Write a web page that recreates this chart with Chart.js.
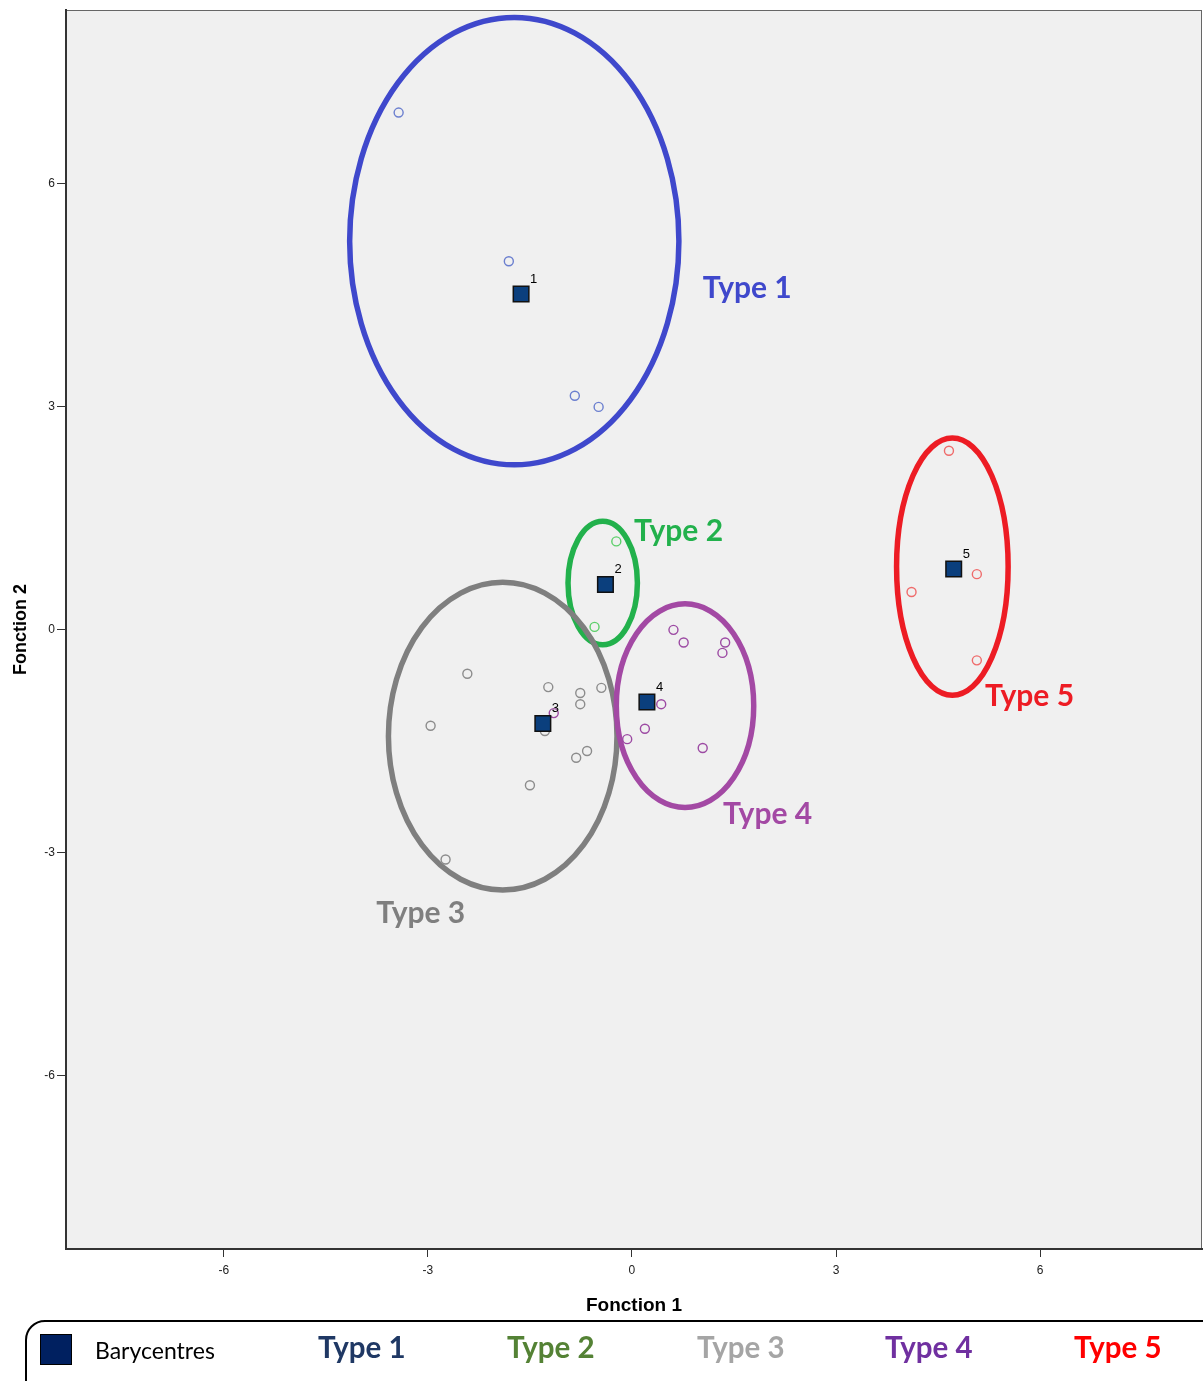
<!DOCTYPE html>
<html>
<head>
<meta charset="utf-8">
<script src="https://cdn.jsdelivr.net/npm/chart.js@4.4.1/dist/chart.umd.min.js"></script>
<style>
  html, body { margin: 0; padding: 0; background: #fff; }
  #wrap { position: relative; width: 1203px; height: 1381px; overflow: hidden; }
  #plot { display: block; }
  #legend {
    position: absolute; left: 25px; top: 1320px; width: 1200px; height: 90px;
    border: 2px solid #000; border-radius: 20px; box-sizing: border-box;
  }
  #legend span { position: absolute; top: 7px; white-space: nowrap; }
  #legend .sw { left: 13px; top: 12px; width: 32px; height: 31px; background: #002060; border: 1.5px solid #000; box-sizing: border-box; }
  #legend .lab { font-family: Lato, "Open Sans", sans-serif; font-weight: bold; font-size: 29.5px; }
</style>
</head>
<body>
<div id="wrap">
  <canvas id="plot" width="1203" height="1381"></canvas>
  <div id="legend">
    <span class="sw"></span>
    <span style="left:68px; top:14px; font-family: Lato, sans-serif; font-size:23px;">Barycentres</span>
    <span class="lab" style="left:291px; color:#1f3864;">Type 1</span>
    <span class="lab" style="left:480px; color:#548235;">Type 2</span>
    <span class="lab" style="left:670px; color:#a5a5a5;">Type 3</span>
    <span class="lab" style="left:858px; color:#7030a0;">Type 4</span>
    <span class="lab" style="left:1047px; color:#ff0000;">Type 5</span>
  </div>
</div>
<script>
// individual cases, per group (Fonction 1, Fonction 2)
const type1 = [[-3.43, 6.96], [-1.81, 4.96], [-0.84, 3.15], [-0.49, 3.00]];
const type2 = [[-0.23, 1.19], [-0.55, 0.04]];
const type3 = [[-2.42, -0.59], [-2.96, -1.29], [-1.23, -0.77], [-0.76, -0.85], [-0.76, -1.00],
               [-0.45, -0.78], [-1.28, -1.36], [-0.66, -1.63], [-0.82, -1.72], [-1.50, -2.09],
               [-2.74, -3.09]];
const type4 = [[-1.15, -1.12], [0.61, 0.00], [0.76, -0.17], [1.37, -0.17], [1.33, -0.31],
               [0.43, -1.00], [0.19, -1.33], [-0.07, -1.47], [1.04, -1.59]];
const type5 = [[4.66, 2.41], [5.07, 0.75], [4.11, 0.51], [5.07, -0.41]];

// group centroids
const centroidX = [-1.63, -0.39, -1.31, 0.22, 4.73];
const centroidY = [4.52, 0.61, -1.26, -0.97, 0.82];
const centroidLabels = ['1', '2', '3', '4', '5'];

// hand-drawn group ellipses (centre and half-axes in axis units)
const ellipseCx = [-1.73, -0.43, -1.90, 0.78, 4.71];
const ellipseCy = [5.23, 0.63, -1.43, -1.02, 0.85];
const ellipseRx = [2.42, 0.51, 1.68, 1.01, 0.82];
const ellipseRy = [3.01, 0.83, 2.07, 1.37, 1.73];

// group names and where they sit next to the ellipses
const groupNames = ['Type 1', 'Type 2', 'Type 3', 'Type 4', 'Type 5'];
const groupLabelX = [1.04, 0.03, -3.76, 1.34, 5.19];
const groupLabelY = [4.59, 1.32, -3.81, -2.48, -0.90];

const xTicks = [-6, -3, 0, 3, 6];
const yTicks = [-6, -3, 0, 3, 6];

const ringColors  = ['#3f48cc', '#22b14c', '#7f7f7f', '#a349a4', '#ed1c24'];
const pointColors = ['#6b7fcf', '#5ccf6a', '#8c8c8c', '#9c4aa3', '#ef6b6b'];

const toPts = arr => arr.map(p => ({ x: p[0], y: p[1] }));

// background + frame, ellipses and labels
const decor = {
  id: 'decor',
  beforeDraw(chart) {
    const { ctx, chartArea: a } = chart;
    ctx.save();
    ctx.fillStyle = '#f0f0f0';
    ctx.fillRect(a.left, a.top, a.right - a.left, a.bottom - a.top);
    ctx.restore();
  },
  beforeDatasetsDraw(chart) {
    const { ctx, scales: { x, y } } = chart;
    ctx.save();
    ellipseCx.forEach((cx, i) => {
      const px = x.getPixelForValue(cx);
      const py = y.getPixelForValue(ellipseCy[i]);
      const rx = Math.abs(x.getPixelForValue(cx + ellipseRx[i]) - px);
      const ry = Math.abs(y.getPixelForValue(ellipseCy[i] + ellipseRy[i]) - py);
      ctx.beginPath();
      ctx.ellipse(px, py, rx, ry, 0, 0, Math.PI * 2);
      ctx.lineWidth = 5.5;
      ctx.strokeStyle = ringColors[i];
      ctx.stroke();
    });
    ctx.restore();
  },
  afterDatasetsDraw(chart) {
    const { ctx, chartArea: a, scales: { x, y } } = chart;
    ctx.save();
    // frame
    ctx.strokeStyle = '#666';
    ctx.lineWidth = 1;
    ctx.strokeRect(a.left + 0.5, a.top + 0.5, a.right - a.left - 1, a.bottom - a.top);
    ctx.strokeStyle = '#333';
    ctx.lineWidth = 2;
    ctx.beginPath();
    ctx.moveTo(a.left, a.top);
    ctx.lineTo(a.left, a.bottom);
    ctx.lineTo(a.right, a.bottom);
    ctx.stroke();

    // centroid numbers
    ctx.fillStyle = '#000';
    ctx.font = '13px "Liberation Sans", Arial, sans-serif';
    ctx.textBaseline = 'middle';
    ctx.textAlign = 'left';
    centroidX.forEach((cx, i) => {
      ctx.fillText(centroidLabels[i], x.getPixelForValue(cx) + 9, y.getPixelForValue(centroidY[i]) - 15);
    });

    // group names
    ctx.font = 'bold 30px Lato, "Open Sans", sans-serif';
    groupNames.forEach((name, i) => {
      ctx.fillStyle = ringColors[i];
      ctx.fillText(name, x.getPixelForValue(groupLabelX[i]), y.getPixelForValue(groupLabelY[i]));
    });
    ctx.restore();
  }
};

const groupSet = (data, i) => ({
  label: groupNames[i],
  data: toPts(data),
  pointStyle: 'circle',
  pointRadius: 4.5,
  pointBorderWidth: 1.4,
  pointBorderColor: pointColors[i],
  pointBackgroundColor: 'rgba(0,0,0,0)',
  showLine: false,
  order: 1
});

new Chart(document.getElementById('plot'), {
  type: 'scatter',
  data: {
    datasets: [
      groupSet(type1, 0), groupSet(type2, 1), groupSet(type3, 2),
      groupSet(type4, 3), groupSet(type5, 4),
      {
        label: 'Barycentres',
        data: centroidX.map((v, i) => ({ x: v, y: centroidY[i] })),
        pointStyle: 'rect',
        pointRadius: 11,
        pointBorderWidth: 1.5,
        pointBorderColor: '#111',
        pointBackgroundColor: '#0b3f7d',
        order: 0
      }
    ]
  },
  plugins: [decor],
  options: {
    responsive: false,
    devicePixelRatio: 1,
    animation: false,
    layout: { autoPadding: false, padding: { left: 0, top: 10, right: 1, bottom: 0 } },
    plugins: { legend: { display: false }, tooltip: { enabled: false } },
    scales: {
      x: {
        type: 'linear',
        min: -8.32, max: 8.38,
        afterFit: s => { s.height = 132; s.paddingLeft = 0; s.paddingRight = 0; },
        afterBuildTicks: s => { s.ticks = xTicks.map(v => ({ value: v })); },
        grid: { drawOnChartArea: false, drawTicks: true, tickLength: 8, color: '#333' },
        border: { display: true, color: '#333', width: 2 },
        ticks: { padding: 6, color: '#222', font: { family: '"Liberation Sans", Arial', size: 12 } },
        title: {
          display: true, text: 'Fonction 1', color: '#000',
          font: { family: '"Liberation Sans Narrow", "Liberation Sans", Arial', size: 19, weight: 'bold' },
          padding: { top: 0, bottom: 64 }
        }
      },
      y: {
        type: 'linear',
        min: -8.33, max: 8.34,
        afterFit: s => { s.width = 66; s.paddingTop = 0; s.paddingBottom = 0; },
        afterBuildTicks: s => { s.ticks = yTicks.map(v => ({ value: v })); },
        grid: { drawOnChartArea: false, drawTicks: true, tickLength: 9, color: '#333' },
        border: { display: true, color: '#333', width: 2 },
        ticks: { padding: 2, color: '#222', font: { family: '"Liberation Sans", Arial', size: 12 } },
        title: {
          display: true, text: 'Fonction 2', color: '#000',
          font: { family: '"Liberation Sans Narrow", "Liberation Sans", Arial', size: 18, weight: 'bold' },
          padding: { top: 10, bottom: 0 }
        }
      }
    }
  }
});
</script>
</body>
</html>
